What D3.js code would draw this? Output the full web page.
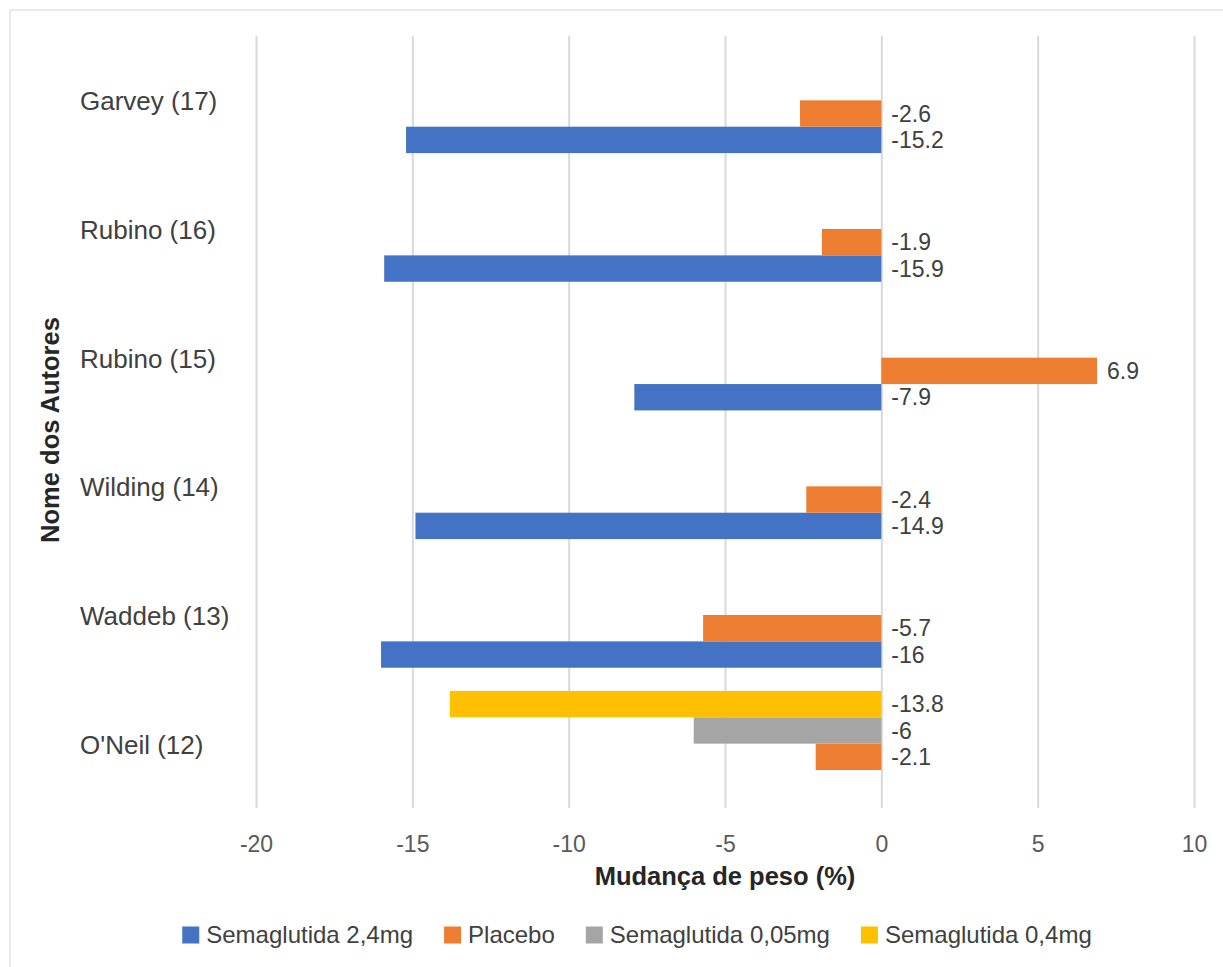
<!DOCTYPE html>
<html>
<head>
<meta charset="utf-8">
<script src="https://cdn.jsdelivr.net/npm/d3@7"></script>
<style>
  html, body { margin: 0; padding: 0; background: #fff; }
  svg { display: block; font-family: "Liberation Sans", Arial, sans-serif; }
</style>
</head>
<body>
<svg id="chart" width="1223" height="967"></svg>
<script>
// Authors (top to bottom)
const categories = ["Garvey (17)", "Rubino (16)", "Rubino (15)", "Wilding (14)", "Waddeb (13)", "O'Neil (12)"];

// Weight change (%) per series, aligned with categories
const sema24  = [-15.2, -15.9, -7.9, -14.9, -16, null];
const placebo = [-2.6, -1.9, 6.9, -2.4, -5.7, -2.1];
const sema005 = [null, null, null, null, null, -6];
const sema04  = [null, null, null, null, null, -13.8];

const seriesNames  = ["Semaglutida 2,4mg", "Placebo", "Semaglutida 0,05mg", "Semaglutida 0,4mg"];
const seriesColors = ["#4472C4", "#ED7D31", "#A5A5A5", "#FFC000"];
const xTicks = [-20, -15, -10, -5, 0, 5, 10];

const series = [
  { name: seriesNames[0], color: seriesColors[0], values: sema24 },
  { name: seriesNames[1], color: seriesColors[1], values: placebo },
  { name: seriesNames[2], color: seriesColors[2], values: sema005 },
  { name: seriesNames[3], color: seriesColors[3], values: sema04 }
];

const svg = d3.select("#chart");

// outer frame
svg.append("rect")
  .attr("x", 10).attr("y", 10)
  .attr("width", 1240).attr("height", 990)
  .attr("fill", "none").attr("stroke", "#e3e3e3").attr("stroke-width", 1.5);

const plot = { left: 256, right: 1194, top: 36, bottom: 808 };

const x = d3.scaleLinear().domain([-20, 10]).range([plot.left, plot.right]);
const y0 = d3.scaleBand().domain(categories).range([plot.top, plot.bottom]).padding(0);
const bw = y0.bandwidth();
// bottom slot is the first series, top slot the last
const y1 = d3.scaleBand()
  .domain(series.map(s => s.name).slice().reverse())
  .range([bw * 0.09, bw * 0.91]);

// vertical gridlines
const grid = svg.append("g")
  .attr("transform", `translate(0,${plot.bottom})`)
  .call(d3.axisBottom(x).tickValues(xTicks).tickSize(-(plot.bottom - plot.top)).tickFormat(""));
grid.select(".domain").remove();
grid.selectAll(".tick line").attr("stroke", "#d9d9d9").attr("stroke-width", 2);

// x tick labels
const xAxis = svg.append("g")
  .attr("transform", `translate(0,${plot.bottom})`)
  .call(d3.axisBottom(x).tickValues(xTicks).tickSize(0).tickPadding(28).tickFormat(d3.format("d")));
xAxis.select(".domain").remove();
xAxis.selectAll("text")
  .attr("font-size", 23).attr("fill", "#595959")
  .style("font-family", "'Liberation Sans', Arial, sans-serif")
  .text(d => d < 0 ? "-" + Math.abs(d) : String(d));

// bars
const groups = svg.append("g").selectAll("g")
  .data(categories)
  .join("g")
  .attr("transform", d => `translate(0,${y0(d)})`);

series.forEach(s => {
  groups.each(function(cat, i) {
    const v = s.values[i];
    if (v === null || v === undefined) return;
    const g = d3.select(this);
    const yy = y1(s.name);
    g.append("rect")
      .attr("x", x(Math.min(0, v)))
      .attr("y", yy)
      .attr("width", Math.abs(x(v) - x(0)))
      .attr("height", y1.bandwidth())
      .attr("fill", s.color);
    g.append("text")
      .attr("x", Math.max(x(v), x(0)) + 10)
      .attr("y", yy + y1.bandwidth() / 2)
      .attr("dy", "0.35em")
      .attr("font-size", 23)
      .attr("fill", "#404040")
      .text(String(v));
  });
});

// category labels
svg.append("g").selectAll("text")
  .data(categories)
  .join("text")
  .attr("x", 80)
  .attr("y", d => y0(d) + bw / 2 + 1)
  .attr("dy", "0.35em")
  .attr("font-size", 26)
  .attr("fill", "#404040")
  .text(d => d);

// axis titles
svg.append("text")
  .attr("x", (plot.left + plot.right) / 2)
  .attr("y", 876)
  .attr("dy", "0.35em")
  .attr("text-anchor", "middle")
  .attr("font-size", 25.5)
  .attr("font-weight", "bold")
  .attr("fill", "#262626")
  .text("Mudança de peso (%)");

svg.append("text")
  .attr("transform", "translate(50,430) rotate(-90)")
  .attr("dy", "0.35em")
  .attr("text-anchor", "middle")
  .attr("font-size", 25.5)
  .attr("font-weight", "bold")
  .attr("fill", "#262626")
  .text("Nome dos Autores");

// legend
const legend = svg.append("g");
let lx = 0;
series.forEach(s => {
  const item = legend.append("g").attr("transform", `translate(${lx},0)`);
  item.append("rect").attr("x", 0).attr("y", -8.5).attr("width", 17).attr("height", 17).attr("fill", s.color);
  const t = item.append("text")
    .attr("x", 24).attr("dy", "0.35em")
    .attr("font-size", 24).attr("fill", "#404040")
    .text(s.name);
  lx += 24 + t.node().getComputedTextLength() + 31;
});
const legendWidth = lx - 31;
legend.attr("transform", `translate(${637 - legendWidth / 2},935)`);
</script>
</body>
</html>
